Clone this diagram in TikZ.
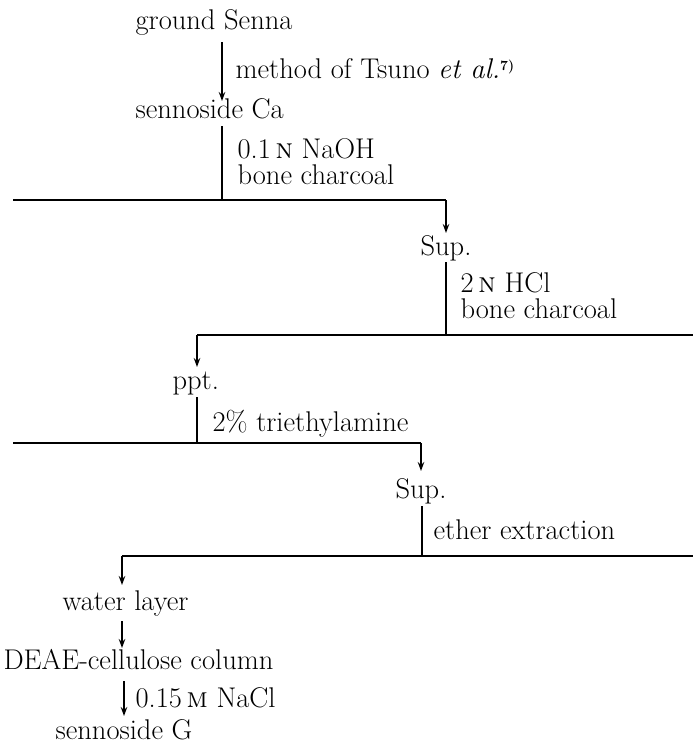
\documentclass[tikz,border=0pt]{standalone}
\usetikzlibrary{arrows.meta}
\begin{document}
\begin{tikzpicture}[x=1pt,y=-1pt,line width=1.2pt,
  lbl/.style={anchor=base west,inner sep=0pt,font=\fontsize{28.5}{32}\selectfont},
  arr/.style={-{Stealth[length=9pt,width=6.5pt]}}]
\useasboundingbox (0,0) rectangle (693,744);
% step 1
\node[lbl] (gs) at (135,29) {ground Senna};
\coordinate (a1s) at (222,42);
\coordinate (a1e) at (222,101);
\draw[arr] (a1s) -- (a1e);
\node[lbl] (m1) at (235,78) {method of Tsuno \textit{et al.}\raisebox{0.6ex}{\fontsize{14}{14}\selectfont\bfseries 7)}};
\node[lbl] (sca) at (135,118) {sennoside Ca};
% step 2
\coordinate (v1s) at (222,126);
\coordinate (h1a) at (13,200);
\coordinate (h1m) at (222,200);
\coordinate (h1b) at (446,200);
\draw (v1s) -- (h1m);
\draw (h1a) -- (h1b);
\node[lbl] (c1a) at (237,158) {0.1\,\textsc{n} NaOH};
\node[lbl] (c1b) at (237,184) {bone charcoal};
\coordinate (a2e) at (446,233);
\draw[arr] (h1b) -- (a2e);
\node[lbl] (sup1) at (420,255) {Sup.};
% step 3
\coordinate (v2s) at (446,262);
\coordinate (h2a) at (197,335);
\coordinate (h2m) at (446,335);
\coordinate (h2b) at (693,335);
\draw (v2s) -- (h2m);
\draw (h2a) -- (h2b);
\node[lbl] (c2a) at (460,292) {2\,\textsc{n} HCl};
\node[lbl] (c2b) at (460,318) {bone charcoal};
\coordinate (a3e) at (197,367);
\draw[arr] (h2a) -- (a3e);
\node[lbl] (ppt) at (172,389) {ppt.};
% step 4
\coordinate (v3s) at (197,397);
\coordinate (h3a) at (13,443);
\coordinate (h3m) at (197,443);
\coordinate (h3b) at (421,443);
\draw (v3s) -- (h3m);
\draw (h3a) -- (h3b);
\node[lbl] (c3) at (212,431) {2\% triethylamine};
\coordinate (a4e) at (421,471);
\draw[arr] (h3b) -- (a4e);
\node[lbl] (sup2) at (395,498) {Sup.};
% step 5
\coordinate (v4s) at (422,506);
\coordinate (h4a) at (122,556);
\coordinate (h4m) at (422,556);
\coordinate (h4b) at (693,556);
\draw (v4s) -- (h4m);
\draw (h4a) -- (h4b);
\node[lbl] (c4) at (433,539) {ether extraction};
\coordinate (a5e) at (122,585);
\draw[arr] (h4a) -- (a5e);
\node[lbl] (wl) at (62,610) {water layer};
% step 6
\coordinate (a6s) at (122,621);
\coordinate (a6e) at (122,648);
\draw[arr] (a6s) -- (a6e);
\node[lbl] (deae) at (3,669) {DEAE-cellulose column};
% step 7
\coordinate (a7s) at (124,681);
\coordinate (a7e) at (124,716);
\draw[arr] (a7s) -- (a7e);
\node[lbl] (c7) at (135,707) {0.15\,\textsc{m} NaCl};
\node[lbl] (sg) at (55,739) {sennoside G};
\end{tikzpicture}
\end{document}
